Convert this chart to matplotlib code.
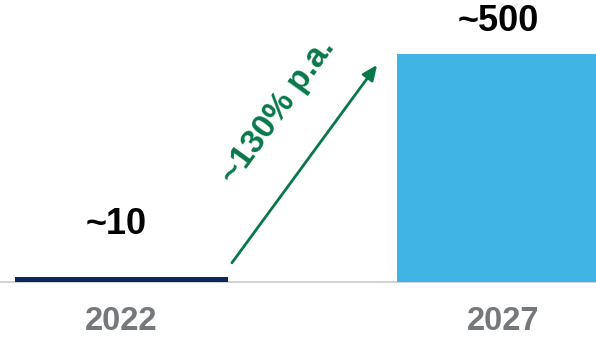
import matplotlib
matplotlib.use("Agg")
import matplotlib.pyplot as plt

# data
years = ["2022", "2027"]
values = [10, 500]
value_labels = ["~10", "~500"]
growth_label = "~130% p.a."

plt.rcParams["font.family"] = ["Liberation Sans", "DejaVu Sans"]

fig = plt.figure(figsize=(5.96, 3.38), dpi=100)
ax = fig.add_axes([0, 0, 1, 1])

pos = [0, 1]
ax.bar(pos, values, width=0.558, color=["#0b2a5b", "#41b4e6"], zorder=2)
ax.axhline(0, color="#d3d3d3", lw=1.5, zorder=1)

ax.set_xlim(-0.318, 1.242)
ax.set_ylim(-122.8, 618.4)
ax.axis("off")

# value labels
label_y = [125, 572]
for x, y, t in zip(pos, label_y, value_labels):
    ax.text(x - 0.015, y, t, ha="center", va="center", fontsize=26,
            fontweight="bold", color="black")

# year labels
for x, t in zip(pos, years):
    ax.text(x, -86, t, ha="center", va="center", fontsize=23.5,
            fontweight="bold", color="#76797c")

# growth arrow
green = "#08784a"
ax.annotate("", xy=(0.669, 476), xytext=(0.289, 42),
            arrowprops=dict(arrowstyle="-|>,head_length=0.9,head_width=0.4",
                            color=green, lw=2, shrinkA=0, shrinkB=0))
ax.text(0.41, 375, growth_label, ha="center", va="center", rotation=54,
        rotation_mode="anchor", fontsize=24, fontweight="bold", color=green)

fig.savefig("out.png", dpi=100)
